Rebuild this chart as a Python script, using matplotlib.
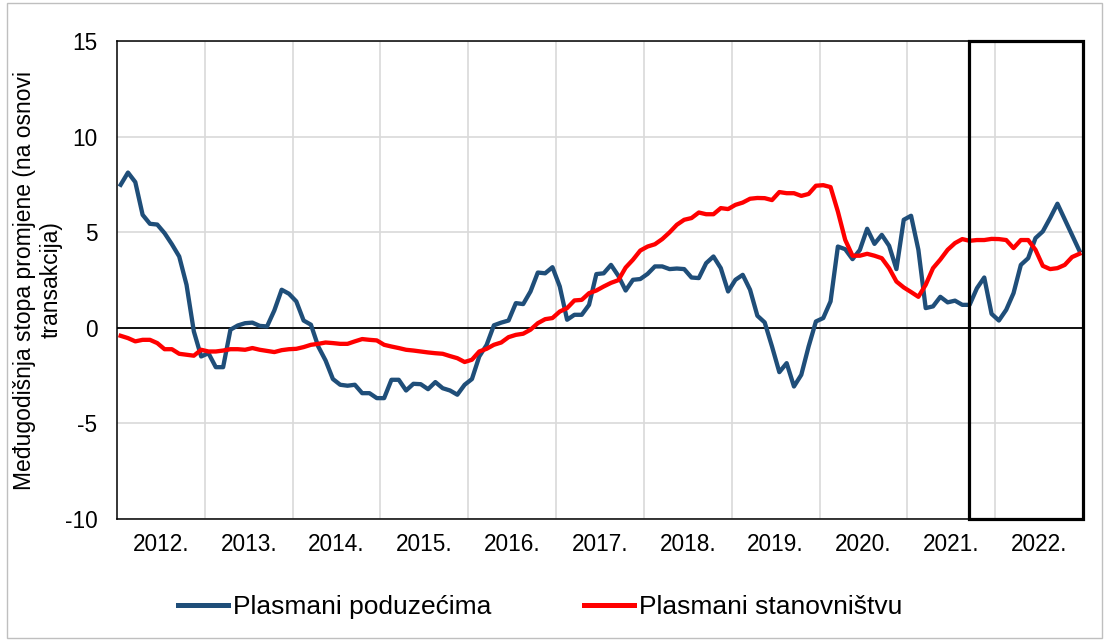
import matplotlib
matplotlib.use("Agg")
import matplotlib.pyplot as plt
from matplotlib.patches import Rectangle
import numpy as np

plt.rcParams["font.family"] = ["Liberation Sans", "DejaVu Sans"]
plt.rcParams["axes.unicode_minus"] = False

# mjesečni podaci, siječanj 2012. - prosinac 2022.
godine = ["2012.", "2013.", "2014.", "2015.", "2016.", "2017.",
          "2018.", "2019.", "2020.", "2021.", "2022."]

poduzeca = [
    7.48, 8.12, 7.62, 5.91, 5.44, 5.40, 4.95, 4.37, 3.73, 2.25, -0.19, -1.50,
    -1.33, -2.06, -2.06, -0.10, 0.12, 0.24, 0.27, 0.10, 0.07, 0.91, 1.99, 1.78,
    1.38, 0.38, 0.16, -0.98, -1.71, -2.68, -2.98, -3.03, -2.98, -3.42, -3.42, -3.68,
    -3.68, -2.72, -2.72, -3.28, -2.93, -2.95, -3.21, -2.84, -3.16, -3.28, -3.50, -2.98,
    -2.68, -1.50, -0.90, 0.13, 0.27, 0.38, 1.29, 1.24, 1.90, 2.89, 2.85, 3.17,
    2.16, 0.42, 0.68, 0.68, 1.20, 2.81, 2.85, 3.29, 2.72, 1.95, 2.51, 2.55,
    2.82, 3.21, 3.21, 3.07, 3.10, 3.07, 2.63, 2.60, 3.38, 3.73, 3.12, 1.90,
    2.51, 2.77, 1.99, 0.63, 0.28, -0.98, -2.32, -1.85, -3.07, -2.46, -0.98, 0.33,
    0.51, 1.38, 4.25, 4.11, 3.59, 4.07, 5.18, 4.39, 4.86, 4.29, 3.07, 5.65,
    5.86, 4.08, 1.03, 1.12, 1.62, 1.33, 1.42, 1.20, 1.20, 2.07, 2.63, 0.73,
    0.38, 0.94, 1.81, 3.29, 3.64, 4.69, 5.04, 5.74, 6.49, 5.67, 4.85, 4.03,
]

stanovnistvo = [
    -0.42, -0.54, -0.71, -0.63, -0.63, -0.80, -1.12, -1.12, -1.36, -1.41, -1.46, -1.15,
    -1.24, -1.24, -1.19, -1.12, -1.12, -1.15, -1.06, -1.15, -1.21, -1.27, -1.17, -1.12,
    -1.10, -1.01, -0.89, -0.84, -0.77, -0.80, -0.84, -0.84, -0.71, -0.59, -0.63, -0.66,
    -0.89, -0.98, -1.06, -1.15, -1.19, -1.24, -1.29, -1.33, -1.36, -1.48, -1.59, -1.79,
    -1.67, -1.24, -1.10, -0.89, -0.77, -0.49, -0.37, -0.31, -0.10, 0.24, 0.45, 0.51,
    0.85, 1.03, 1.43, 1.46, 1.81, 1.95, 2.16, 2.35, 2.49, 3.15, 3.56, 4.04,
    4.25, 4.37, 4.64, 4.99, 5.39, 5.65, 5.74, 6.03, 5.94, 5.94, 6.26, 6.21,
    6.43, 6.55, 6.75, 6.79, 6.78, 6.68, 7.10, 7.04, 7.04, 6.90, 7.00, 7.43,
    7.46, 7.36, 6.08, 4.60, 3.77, 3.77, 3.87, 3.77, 3.64, 3.12, 2.42, 2.11,
    1.87, 1.62, 2.25, 3.12, 3.57, 4.08, 4.43, 4.64, 4.55, 4.59, 4.59, 4.65,
    4.64, 4.59, 4.17, 4.59, 4.59, 4.08, 3.24, 3.07, 3.12, 3.29, 3.70, 3.87,
]

mjeseci = np.arange(len(poduzeca))

fig = plt.figure(figsize=(11.09, 6.43), dpi=100)
ax = fig.add_axes([0.1055, 0.1929, 0.8711, 0.7433])

ax.plot(mjeseci, poduzeca, color="#1f4e79", lw=3.1, label="Plasmani poduzećima", zorder=3)
ax.plot(mjeseci, stanovnistvo, color="#ff0000", lw=3.1, label="Plasmani stanovništvu", zorder=3)

ax.set_xlim(-0.5, len(mjeseci) - 0.5)
ax.set_ylim(-10, 15)

# godine u sredini, mreža na granicama godina
ax.set_xticks(np.arange(len(godine)) * 12 + 5.5)
ax.set_xticklabels(godine)
ax.set_xticks(np.arange(1, len(godine)) * 12 - 0.5, minor=True)
ax.set_yticks(np.arange(-10, 16, 5))
ax.tick_params(axis="both", which="both", length=0, labelsize=16.3)
ax.tick_params(axis="y", pad=14)
ax.tick_params(axis="x", pad=10)
ax.grid(True, axis="x", which="minor", color="#d9d9d9", lw=1.2)
ax.grid(True, axis="y", which="major", color="#d9d9d9", lw=1.2)
ax.set_axisbelow(True)
ax.axhline(0, color="black", lw=1.3, zorder=2)
for s in ax.spines.values():
    s.set_color("black")
    s.set_linewidth(1.1)

# okvir oko zadnjeg razdoblja
ax.add_patch(Rectangle((115.9, -10), 131.5 - 115.9, 25, fill=False, ec="black", lw=2.3,
                       zorder=4, clip_on=False))

fig.text(38 / 1109, 1 - 280 / 643,
         "Međugodišnja stopa promjene (na osnovi\ntransakcija)",
         rotation=90, ha="center", va="center", fontsize=16.5,
         multialignment="center")

leg = fig.legend(loc="center", bbox_to_anchor=(540 / 1109, 1 - 607 / 643), ncol=2,
                 frameon=False, fontsize=19, handlelength=1.9, handletextpad=0.2,
                 columnspacing=3.5)
for h in leg.get_lines():
    h.set_linewidth(3.6)

# vanjski okvir grafikona
fig.patches.append(Rectangle((0.006, 0.008), 0.988, 0.988, transform=fig.transFigure,
                             fill=False, ec="#bfbfbf", lw=1.0))

fig.savefig("out.png", dpi=100)
